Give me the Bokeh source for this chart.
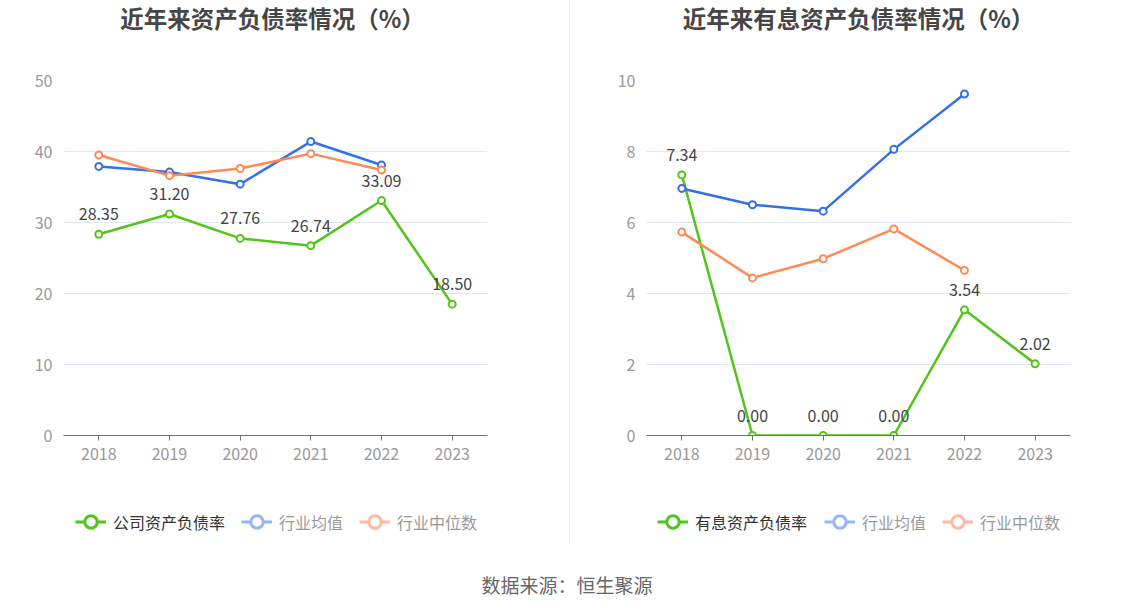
from bokeh.plotting import figure
from bokeh.models import (ColumnDataSource, FactorRange, Range1d, Legend, LegendItem,
                          LabelSet, Div, FixedTicker)
from bokeh.layouts import row, column
from bokeh.core.properties import value
from bokeh.embed import file_html
from bokeh.resources import INLINE

years = ["2018", "2019", "2020", "2021", "2022", "2023"]
ind_years = ["2018", "2019", "2020", "2021", "2022"]

debt_company = [28.35, 31.20, 27.76, 26.74, 33.09, 18.50]
debt_ind_mean = [37.9, 37.1, 35.4, 41.4, 38.1]
debt_ind_median = [39.5, 36.6, 37.6, 39.7, 37.4]

ib_company = [7.34, 0.00, 0.00, 0.00, 3.54, 2.02]
ib_ind_mean = [6.96, 6.50, 6.32, 8.06, 9.62]
ib_ind_median = [5.73, 4.44, 4.98, 5.82, 4.65]

left_ticks = [0, 10, 20, 30, 40, 50]
right_ticks = [0, 2, 4, 6, 8, 10]

FONT = "Noto Sans CJK SC"
GREEN = "#52c41a"
BLUE = "#3470e8"
ORANGE = "#ff8a55"
BLUE_L = "#97b6f4"
ORANGE_L = "#ffb9a2"

TITLE_H = 44
CH_H = 456
LEG_H = 42
NAN = float("nan")


def make_chart(title, company_label, company, mean, median, ymax, ticks,
               width, bl, br, leg_x1, leg_x2, t_pad, t_width):
    tdiv = Div(text='<div style="box-sizing:border-box;width:%dpx;padding-left:%dpx;'
                    'text-align:center;font-size:23.5px;font-weight:bold;color:#464646;'
                    'font-family:\'Noto Sans CJK SC\';padding-top:4px;line-height:28px">'
                    '%s</div>' % (t_width, t_pad, title),
               width=width, height=TITLE_H, margin=0)

    p = figure(x_range=FactorRange(*years, range_padding=0), y_range=Range1d(0, ymax),
               width=width, height=CH_H, output_backend="svg", toolbar_location=None,
               min_border_left=bl, min_border_right=br, min_border_top=80 - TITLE_H,
               min_border_bottom=CH_H - (80 - TITLE_H) - 355)
    p.outline_line_color = None
    p.xgrid.grid_line_color = None
    p.ygrid.grid_line_color = "#e0e6f1"
    p.ygrid.grid_line_width = 1

    p.yaxis.ticker = FixedTicker(ticks=ticks)
    p.yaxis.axis_line_color = None
    p.yaxis.major_tick_line_color = None
    p.yaxis.minor_tick_line_color = None
    p.yaxis.major_label_standoff = 5
    p.yaxis.major_label_text_font = FONT
    p.yaxis.major_label_text_font_size = "16px"
    p.yaxis.major_label_text_color = "#999999"

    p.xaxis.axis_line_color = "#6e7079"
    p.xaxis.major_tick_line_color = "#6e7079"
    p.xaxis.major_tick_in = 0
    p.xaxis.major_tick_out = 5
    p.xaxis.major_label_standoff = 7
    p.xaxis.major_label_text_font = FONT
    p.xaxis.major_label_text_font_size = "16px"
    p.xaxis.major_label_text_color = "#999999"

    src_c = ColumnDataSource(dict(x=years, y=company, lab=["%.2f" % v for v in company]))
    src_m = ColumnDataSource(dict(x=ind_years, y=mean))
    src_d = ColumnDataSource(dict(x=ind_years, y=median))

    for src, col in ((src_c, GREEN), (src_m, BLUE), (src_d, ORANGE)):
        p.line("x", "y", source=src, line_color=col, line_width=2.5)
        p.scatter("x", "y", source=src, size=7, line_color=col, line_width=2,
                  fill_color="white")

    labels = LabelSet(x="x", y="y", text="lab", source=src_c, y_offset=20,
                      text_align="center", text_baseline="middle",
                      text_font=value(FONT), text_font_size=value("16px"),
                      text_color=value("#444444"))
    p.add_layout(labels)

    # legend strip below the chart (frame aligned with the chart's frame)
    lf = figure(x_range=Range1d(0, 1), y_range=Range1d(0, 1), width=width, height=LEG_H,
                output_backend="svg", toolbar_location=None, min_border=0,
                x_axis_location=None, y_axis_location=None)
    lf.outline_line_color = None
    lf.grid.grid_line_color = None

    items1 = []
    items2 = []
    for col, lab, target in ((GREEN, company_label, items1), (BLUE_L, "行业均值", items2),
                             (ORANGE_L, "行业中位数", items2)):
        s = ColumnDataSource(dict(x=[NAN], y=[NAN]))
        lr = lf.line("x", "y", source=s, line_color=col, line_width=3)
        sr = lf.scatter("x", "y", source=s, line_color=col, line_width=3, fill_color="white")
        target.append(LegendItem(label=lab, renderers=[lr, sr]))

    common = dict(orientation="horizontal", padding=0, margin=0, border_line_color=None,
                  background_fill_alpha=0, glyph_width=31, glyph_height=35,
                  label_standoff=7, spacing=16, label_text_font=FONT,
                  label_text_font_size="16px")
    lg1 = Legend(items=items1, location=(leg_x1, 3), label_text_color="#333333", **common)
    lg2 = Legend(items=items2, location=(leg_x2, 3), label_text_color="#999999", **common)
    lf.add_layout(lg1)
    lf.add_layout(lg2)
    return column(tdiv, p, lf, spacing=0)


c1 = make_chart("近年来资产负债率情况（%）", "公司资产负债率", debt_company, debt_ind_mean,
                debt_ind_median, 50, left_ticks, 569, 63, 569 - 487, 12, 178, 0, 545)
sep = Div(text="", width=1, height=TITLE_H + CH_H + LEG_H, margin=0,
          styles={"background-color": "#ececec"})
c2 = make_chart("近年来有息资产负债率情况（%）", "有息资产负债率", ib_company, ib_ind_mean,
                ib_ind_median, 10, right_ticks, 560, 76, 560 - 500, 11, 178, 17, 560)

src_div = Div(text='<div style="box-sizing:border-box;width:1134px;text-align:center;'
                   'font-size:19px;color:#666666;font-family:\'Noto Sans CJK SC\';'
                   'padding-top:32px;line-height:22px">数据来源：恒生聚源</div>',
              width=1130, height=64, margin=0)

layout = column(row(c1, sep, c2, spacing=0), src_div, spacing=0)
open("out.html", "w").write(file_html(layout, INLINE))
